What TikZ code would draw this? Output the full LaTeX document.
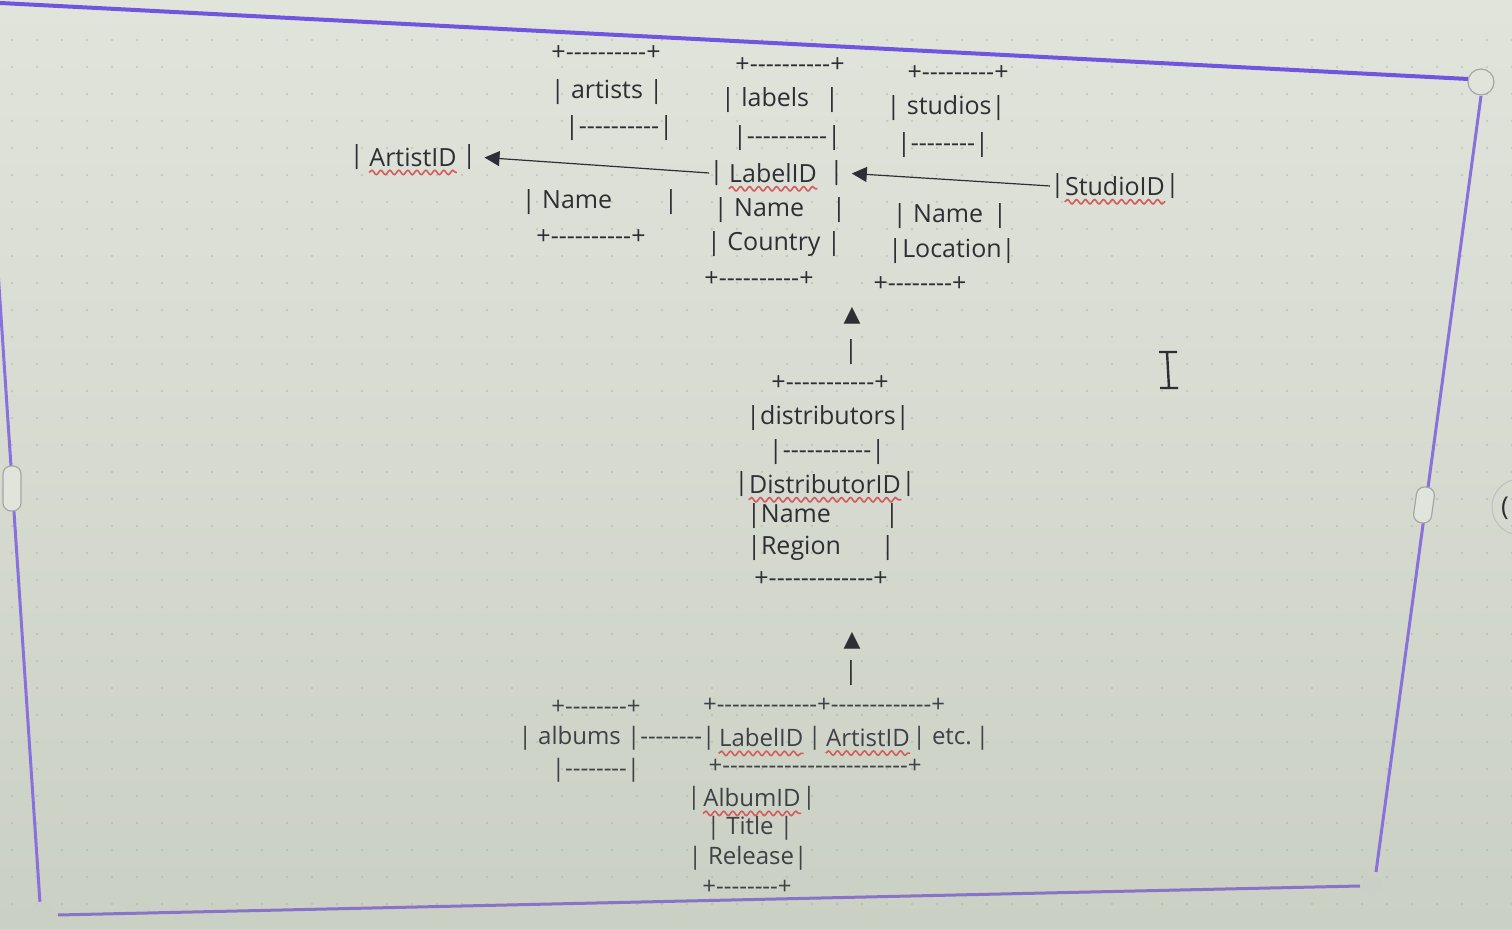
\documentclass[tikz,border=0pt]{standalone}
\usepackage{fontspec}
\setmainfont{Open Sans}[Ligatures=TeXOff]
\newfontfamily\symfont{DejaVu Sans}
\usetikzlibrary{positioning, arrows.meta, decorations.pathmorphing}
\definecolor{ink}{RGB}{44,48,52}
\definecolor{inklow}{RGB}{62,66,70}
\definecolor{paperhi}{RGB}{225,228,219}
\definecolor{paperlo}{RGB}{203,208,196}
\definecolor{frameline}{RGB}{112,86,222}
\definecolor{frameside}{RGB}{138,112,218}
\definecolor{squig}{RGB}{212,92,92}
\definecolor{dotc}{RGB}{160,168,162}
\newcommand\pad[1]{\hspace*{#1}}
\tikzset{
  txt/.style={inner sep=0pt, text=ink, font=\fontsize{12.5}{14}\selectfont},
  txtlow/.style={txt, text=inklow, font=\fontsize{12}{14}\selectfont},
  bar/.style={txt, node distance=2.5pt},
  wavy/.style={draw=squig, line width=0.8pt, decorate,
    decoration={snake, amplitude=1.1pt, segment length=4.5pt}},
  link/.style={draw=ink, line width=0.6pt, -{Triangle[length=7.5pt,width=7.5pt]}},
  handle/.style={draw=gray!70, line width=0.6pt, fill=paperhi}
}
\begin{document}
\begin{tikzpicture}[x=0.5pt,y=0.5pt,yscale=-1,xscale=1]
\useasboundingbox (0,0) rectangle (1512,929);

%Background
\shade[top color=paperhi, bottom color=paperlo] (0,0) rectangle (1512,929);
%Dot grid
\foreach \gx in {12,37,...,1512}
  \foreach \gy in {40,67,...,929}
    \fill[dotc, opacity=0.4] (\gx,\gy) circle (1.3);

%Frame: top, right, bottom, left
\draw[frameline, line width=2pt] (0,3) -- (1468,79) ;
\draw[frameside, line width=1.5pt] (1481,96) -- (1376,872) ;
\draw[frameside!80!gray, line width=1.5pt] (58,915) -- (1360,886) ;
\draw[frameside, line width=1.5pt] (-20,0) -- (40,903) ;
%Handles
\draw[handle] (1481,82) circle (13) ;
\draw[handle, rounded corners=4] (3,466) rectangle (21,511) ;
\draw[handle, rounded corners=4, rotate around={8:(1424,505)}] (1415,487) rectangle (1433,523) ;
\draw[gray!40, line width=0.5pt, fill=paperlo] (42,911) circle (9) ;
\draw[gray!40, line width=0.5pt, fill=paperlo] (1372,885) circle (9) ;
\draw[gray!50, line width=0.5pt] (1520,507) ++(105:28) arc (105:255:28) ;
\node[txt, font=\fontsize{13}{13}\selectfont] (rot) at (1505,508) {(};

%artists
\node[txt] (art1) at (606,53) {+----------+};
\node[txt] (art2) at (607,92) {| artists |};
\node[txt] (art3) at (619,128) {|----------|};
\node[txt] (artid) at (413,157) {ArtistID};
\node[bar, left=of artid] (artid-l) {|};
\node[bar, right=of artid] (artid-r) {|};
\node[txt] (art5) at (600,202) {| Name\pad{26pt}|};
\node[txt] (art6) at (591,237) {+----------+};

%labels
\node[txt] (lab1) at (790,65) {+----------+};
\node[txt] (lab2) at (780,100) {| labels\pad{8pt}|};
\node[txt] (lab3) at (787,138) {|----------|};
\node[txt] (labid) at (773,173) {LabelID};
\node[bar, left=of labid] (labid-l) {|};
\node[bar, right=6pt of labid] (labid-r) {|};
\node[txt] (lab5) at (780,210) {| Name\pad{14pt}|};
\node[txt] (lab6) at (774,244) {| Country |};
\node[txt] (lab7) at (759,279) {+----------+};

%studios
\node[txt] (stuid) at (1115,186) {StudioID};
\node[txt] (stu1) at (958,73) {+---------+};
\node[txt] (stu2) at (946,108) {| studios|};
\node[txt] (stu3) at (943,145) {|--------|};
\node[bar, left=0pt of stuid] (stuid-l) {|};
\node[bar, right=0pt of stuid] (stuid-r) {|};
\node[txt] (stu5) at (950,216) {| Name\pad{5pt}|};
\node[txt] (stu6) at (952,251) {|Location|};
\node[txt] (stu7) at (920,284) {+--------+};

%distributors
\node[txt, font=\symfont\fontsize{11}{12}\selectfont] (up1) at (852,316) {▲};
\node[txt] (up1s) at (851,352) {|};
\node[txt] (dis1) at (830,383) {+-----------+};
\node[txt] (dis2) at (828,418) {|distributors|};
\node[txt] (dis3) at (827,452) {|-----------|};
\node[txt] (disid) at (825,484) {DistributorID};
\node[bar, left=0pt of disid] (disid-l) {|};
\node[bar, right=0pt of disid] (disid-r) {|};
\node[txt] (dis5) at (823,516) {|Name\pad{27pt}|};
\node[txt] (dis6) at (821,548) {|Region\pad{20pt}|};
\node[txt] (dis7) at (821,579) {+-------------+};
\node[txt, font=\symfont\fontsize{11}{12}\selectfont] (up2) at (852,641) {▲};
\node[txt] (up2s) at (851,673) {|};

%albums
\node[txtlow] (alb1) at (596,707) {+--------+};
\node[txtlow] (alb2) at (824,705) {+-------------+-------------+};
\node[txtlow] (albhd) at (617,738) {| albums |--------|};
\node[txtlow, right=1.5pt of albhd] (alblab) {LabelID};
\node[txtlow, right=2pt of alblab] (albsep) {|};
\node[txtlow, right=2pt of albsep] (albart) {ArtistID};
\node[txtlow, right=1pt of albart] (albetc) {| etc.\,|};
\node[txtlow] (alb4) at (596,770) {|--------|};
\node[txtlow] (alb5) at (815,766) {+------------------------+};
\node[txtlow] (albid) at (752,798) {AlbumID};
\node[txtlow, left=1pt of albid] (albid-l) {|};
\node[txtlow, right=0.5pt of albid] (albid-r) {|};
\node[txtlow] (alb7) at (750,828) {| Title |};
\node[txtlow] (alb8) at (748,858) {| Release|};
\node[txtlow] (alb9) at (747,887) {+--------+};

%Spell-check underlines (yshift is flipped by yscale=-1)
\foreach \w in {artid, labid, stuid, disid, alblab, albart, albid}
  \draw[wavy] ([yshift=3.2pt]\w.base west) -- ([yshift=3.2pt]\w.base east) ;

%Links
\draw[link, shorten >=4pt] (labid-l.west) -- (artid-r.east) ;
\draw[link, shorten >=4pt] (stuid-l.west) -- (labid-r.east) ;

%Text cursor
\draw[ink, line width=1.2pt] (1167,352) -- (1169,388) (1159,352) -- (1177,352) (1160,388) -- (1178,388) ;

\end{tikzpicture}
\end{document}
